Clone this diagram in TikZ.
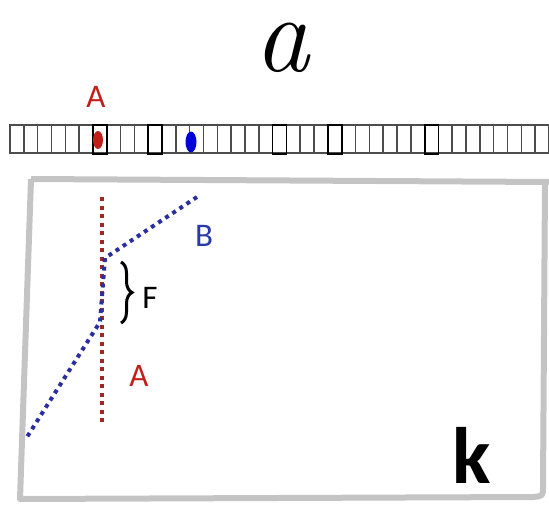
\documentclass[tikz,border=0pt]{standalone}
\usepackage{fontspec}
\setsansfont{Carlito}
\usetikzlibrary{decorations.pathreplacing}
\definecolor{redA}{HTML}{C0201C}
\definecolor{reddot}{HTML}{9A2A22}
\definecolor{bluedot}{HTML}{2A2E9E}
\definecolor{blueB}{HTML}{2A3AA8}
\definecolor{framegray}{HTML}{C4C4C4}
\begin{document}
\begin{tikzpicture}[x=1pt,y=-1pt,
  cell/.style={draw=black!70,line width=1.5pt},
  hicell/.style={draw=black,line width=1.8pt},
  lbl/.style={font=\sffamily\fontsize{33}{33}\selectfont,inner sep=0pt},
  reddots/.style={draw=reddot,line width=4pt,dash pattern=on 4pt off 4.5pt},
  bluedots/.style={draw=bluedot,line width=4pt,dash pattern=on 4pt off 4.5pt}]
\useasboundingbox (0,0) rectangle (549,511);
% title letter
\node[inner sep=0pt,font=\itshape\fontsize{110}{110}\selectfont] (ta) at (282,48) {a};
% strip of cells
\foreach \i in {0,...,38}
  \draw[cell] ({10+\i*13.82},125) rectangle ++(13.82,28);
\foreach \i in {6,10,19,23,30}
  \draw[hicell] ({10+\i*13.82},125) rectangle ++(13.82,29);
\fill[redA] (98,140) ellipse [x radius=5pt,y radius=9pt];
\fill[blue!85!black] (191,142) ellipse [x radius=5.5pt,y radius=10.5pt];
\node[lbl,text=redA] (atop) at (96,97) {A};
% frame
\draw[framegray,line width=6pt,line join=round]
  (31,179) -- (549,182) (545,182) -- (543,487) .. controls (543,496) .. (533,497)
  -- (20,499) -- (31,179);
% dotted lines
\coordinate (r1) at (102,197);
\coordinate (r2) at (102,425);
\draw[reddots] (r1) -- (r2);
\coordinate (b1) at (197,197);
\coordinate (b2) at (105,258);
\coordinate (b3) at (100,322);
\coordinate (b4) at (27,437);
\draw[bluedots] (b1) -- (b2) -- (b3) -- (b4);
% brace
\coordinate (f1) at (121,262);
\coordinate (f2) at (121,323);
\draw[line width=3pt,decorate,decoration={brace,amplitude=11pt}] (f1) -- (f2);
\node[lbl] (F) at (150,298) {F};
\node[lbl,text=blueB] (B) at (204,236) {B};
\node[lbl,text=redA] (Alow) at (139,376) {A};
\node[inner sep=0pt,font=\sffamily\bfseries\fontsize{80}{80}\selectfont] (k) at (472,455) {k};
\end{tikzpicture}
\end{document}
